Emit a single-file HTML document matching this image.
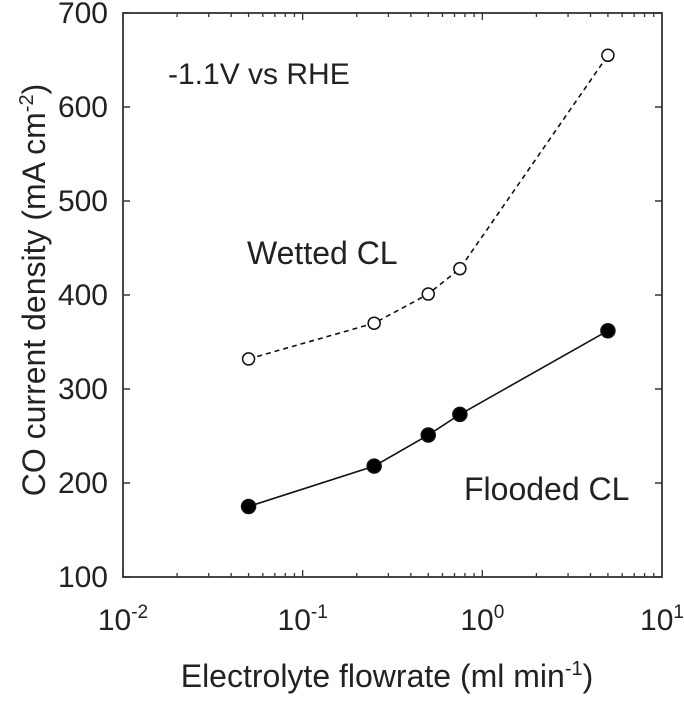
<!DOCTYPE html>
<html><head><meta charset="utf-8"><style>
body{margin:0;background:#fff}
svg text{font-family:"Liberation Sans",Arial,sans-serif;fill:#222}
</style></head><body>
<svg width="684" height="696" viewBox="0 0 684 696" xmlns="http://www.w3.org/2000/svg">
<g id="axes"></g>
<g id="marks"></g>
<text x="168" y="84" font-size="30">-1.1V vs RHE</text>
<text x="247" y="264" font-size="32">Wetted CL</text>
<text x="464" y="500" font-size="32">Flooded CL</text>
<text x="387" y="687" font-size="32" text-anchor="middle">Electrolyte flowrate (ml min<tspan dy="-12" font-size="20">-1</tspan><tspan dy="12">)</tspan></text>
<text transform="translate(45,290) rotate(-90)" font-size="32" text-anchor="middle">CO current density (mA cm<tspan dy="-12" font-size="20">-2</tspan><tspan dy="12">)</tspan></text>
</svg>
<script>
const flowrates=[0.05,0.25,0.5,0.75,5];
const wetted=[332,370,401,428,655];
const flooded=[175,218,251,273,362];
const yTicks=[100,200,300,400,500,600,700];
const xExps=[-2,-1,0,1];
const L=123,R=662,T=13,B=577;
const xs=v=>L+(Math.log10(v)+2)/3*(R-L);
const ys=v=>B-(v-100)/600*(B-T);
const NS="http://www.w3.org/2000/svg";
function mk(tag,attrs,parent){const e=document.createElementNS(NS,tag);for(const k in attrs)e.setAttribute(k,attrs[k]);parent.appendChild(e);return e;}
const ax=document.getElementById('axes'),mg=document.getElementById('marks');
let f=mk('rect',{x:L,y:T,width:R-L,height:B-T,fill:'none',stroke:'#333','stroke-width':1.8},ax);


yTicks.forEach(v=>{
 const y=ys(v);
 let t=mk('line',{x1:L,x2:L+7,y1:y,y2:y,stroke:'#333','stroke-width':1.5},ax);
 
 
 mk('line',{x1:R,x2:R-7,y1:y,y2:y,stroke:'#333','stroke-width':1.5},ax);
 let l=mk('text',{x:L-15,y:y+10,'font-size':30,'text-anchor':'end'},ax);
 l.textContent=v;
 
 
});
xExps.forEach((e,i)=>{
 const x=xs(Math.pow(10,e));
 let l=mk('text',{x:x,y:630,'font-size':30,'text-anchor':'middle'},ax);
 l.innerHTML='10<tspan dy="-12" font-size="19">'+e+'</tspan>';
 
 
 if(i<xExps.length-1){
  for(let m=1;m<10;m++){
   const xx=xs(m*Math.pow(10,e));const len=m===1?7:4;
   let t=mk('line',{x1:xx,x2:xx,y1:B,y2:B-len,stroke:'#333','stroke-width':1.3},ax);
   
   
   mk('line',{x1:xx,x2:xx,y1:T,y2:T+len,stroke:'#333','stroke-width':1.3},ax);
  }
 }
});
function series(vals,dash,fill,name){
 const p=mk('polyline',{points:flowrates.map((x,i)=>xs(x)+','+ys(vals[i])).join(' '),fill:'none',stroke:'#111','stroke-width':1.6,'stroke-dasharray':dash},mg);
 
 
 flowrates.forEach((x,i)=>{
  const c=mk('circle',{cx:xs(x),cy:ys(vals[i]),r:fill?7:6,fill:fill?'#000':'#fff',stroke:'#111','stroke-width':1.5},mg);
  
  
 });
}
series(wetted,'5,4',false,'wetted');
series(flooded,'none',true,'flooded');
</script>
</body></html>
